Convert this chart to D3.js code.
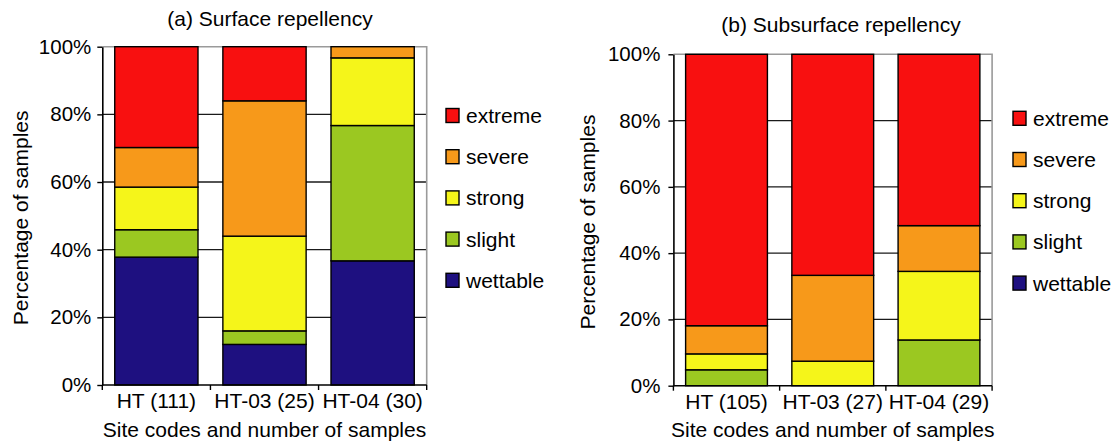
<!DOCTYPE html>
<html>
<head>
<meta charset="utf-8">
<script src="https://cdn.jsdelivr.net/npm/d3@7"></script>
<style>
  html, body { margin: 0; padding: 0; background: #fff; }
  svg { display: block; font-family: "Liberation Sans", Arial, Helvetica, sans-serif; }
</style>
</head>
<body>
<svg id="chart" width="1120" height="444"></svg>
<script>
// repellency class shares (% of samples)
var classes = ["wettable", "slight", "strong", "severe", "extreme"];
var legendOrder = ["extreme", "severe", "strong", "slight", "wettable"];
var classColors = ["#1e1080", "#9bc821", "#f5f51a", "#f7991a", "#f81010"];
var yTicks = [0, 20, 40, 60, 80, 100];

var sitesSurface = ["HT (111)", "HT-03 (25)", "HT-04 (30)"];
var surfWettable = [37.8, 12.0, 36.7];
var surfSlight = [8.1, 4.0, 40.0];
var surfStrong = [12.6, 28.0, 20.0];
var surfSevere = [11.7, 40.0, 3.3];
var surfExtreme = [29.8, 16.0, 0];

var sitesSubsurface = ["HT (105)", "HT-03 (27)", "HT-04 (29)"];
var subWettable = [0, 0, 0];
var subSlight = [4.8, 0, 13.8];
var subStrong = [4.8, 7.4, 20.7];
var subSevere = [8.5, 25.9, 13.8];
var subExtreme = [81.9, 66.7, 51.7];

var svg = d3.select("#chart");
var color = d3.scaleOrdinal().domain(classes).range(classColors);
var FONT = 21;

function rows(sites, cols) {
  return sites.map(function (s, i) {
    var r = { site: s };
    classes.forEach(function (c, k) { r[c] = cols[k][i]; });
    return r;
  });
}

function panel(opt) {
  var x = d3.scaleBand().domain(opt.sites).range([opt.left, opt.right])
    .paddingInner(0.23).paddingOuter(0.115);
  var y = d3.scaleLinear().domain([0, 100]).range([opt.bottom, opt.top]);
  var g = svg.append("g");

  // title
  g.append("text").attr("x", opt.titleX).attr("y", opt.titleY).attr("text-anchor", "middle")
    .attr("font-size", FONT).attr("fill", "#000").text(opt.title);

  // gridlines (behind the bars)
  g.append("g").selectAll("line").data(yTicks.filter(function (t) { return t > 0 && t < 100; }))
    .join("line").attr("x1", opt.left).attr("x2", opt.right)
    .attr("y1", function (d) { return y(d); }).attr("y2", function (d) { return y(d); })
    .attr("stroke", "#1a1a1a").attr("stroke-width", 1.3);
  // plot-area border top/right (grey)
  g.append("path").attr("d", "M" + opt.left + "," + y(100) + "H" + opt.right + "V" + y(0))
    .attr("fill", "none").attr("stroke", "#9a9a9a").attr("stroke-width", 1.6);

  // stacked bars
  var stacked = d3.stack().keys(classes)(rows(opt.sites, opt.cols));
  g.append("g").selectAll("g").data(stacked).join("g")
    .attr("fill", function (d) { return color(d.key); })
    .selectAll("rect").data(function (d) { return d.filter(function (p) { return p[1] - p[0] > 0; }); })
    .join("rect")
    .attr("x", function (d) { return x(d.data.site); })
    .attr("width", x.bandwidth())
    .attr("y", function (d) { return y(d[1]); })
    .attr("height", function (d) { return y(d[0]) - y(d[1]); })
    .attr("stroke", "#000").attr("stroke-width", 1.4);

  // y axis
  var ya = g.append("g").attr("transform", "translate(" + opt.left + ",0)")
    .call(d3.axisLeft(y).tickValues(yTicks).tickSize(5).tickSizeOuter(0)
      .tickPadding(opt.yPad).tickFormat(function (d) { return d + "%"; }));
  ya.select(".domain").attr("stroke", "#000").attr("stroke-width", 1.6);
  ya.selectAll(".tick line").attr("stroke", "#000").attr("stroke-width", 1.4);
  ya.selectAll("text").attr("font-size", FONT - 0.5).attr("fill", "#000").attr("font-family", null);

  // x axis: labels centred, ticks at category boundaries
  var xa = g.append("g").attr("transform", "translate(0," + opt.bottom + ")")
    .call(d3.axisBottom(x).tickSize(0).tickPadding(8));
  xa.select(".domain").remove();
  xa.selectAll("text").attr("font-size", FONT).attr("fill", "#000").attr("font-family", null);
  g.append("line").attr("x1", opt.left).attr("x2", opt.right).attr("y1", y(0)).attr("y2", y(0))
    .attr("stroke", "#000").attr("stroke-width", 1.6);
  var edges = opt.sites.map(function (s) { return x(s) - x.step() * x.paddingInner() / 2; }).concat([opt.right]);
  edges[0] = opt.left;
  g.append("g").selectAll("line").data(edges).join("line")
    .attr("x1", function (d) { return d; }).attr("x2", function (d) { return d; })
    .attr("y1", y(0)).attr("y2", y(0) + 5).attr("stroke", "#000").attr("stroke-width", 1.4);

  // axis titles
  g.append("text").attr("x", (opt.left + opt.right) / 2).attr("y", 437).attr("text-anchor", "middle")
    .attr("font-size", FONT).attr("fill", "#000").text("Site codes and number of samples");
  g.append("text").attr("transform", "translate(" + opt.yTitleX + "," + ((opt.top + opt.bottom) / 2 + 2) + ") rotate(-90)")
    .attr("text-anchor", "middle").attr("font-size", FONT).attr("fill", "#000").text("Percentage of samples");

  // legend
  var lg = g.append("g").selectAll("g").data(legendOrder).join("g")
    .attr("transform", function (d, i) { return "translate(" + opt.legX + "," + (opt.legY + i * 41.2) + ")"; });
  lg.append("rect").attr("x", 0).attr("y", -7).attr("width", 13).attr("height", 14)
    .attr("fill", function (d) { return color(d); }).attr("stroke", "#000").attr("stroke-width", 1.4);
  lg.append("text").attr("x", 20).attr("y", 7.5).attr("font-size", FONT).attr("fill", "#000")
    .text(function (d) { return d; });
}

panel({
  title: "(a) Surface repellency", titleX: 270, titleY: 25.5,
  sites: sitesSurface, cols: [surfWettable, surfSlight, surfStrong, surfSevere, surfExtreme],
  left: 102.3, right: 426.7, top: 46.7, bottom: 385,
  yPad: 6, yTitleX: 28, legX: 446, legY: 115.5
});
panel({
  title: "(b) Subsurface repellency", titleX: 841, titleY: 32,
  sites: sitesSubsurface, cols: [subWettable, subSlight, subStrong, subSevere, subExtreme],
  left: 673.4, right: 992.1, top: 54.3, bottom: 385.7,
  yPad: 8, yTitleX: 595, legX: 1013, legY: 118.3
});
</script>
</body>
</html>
